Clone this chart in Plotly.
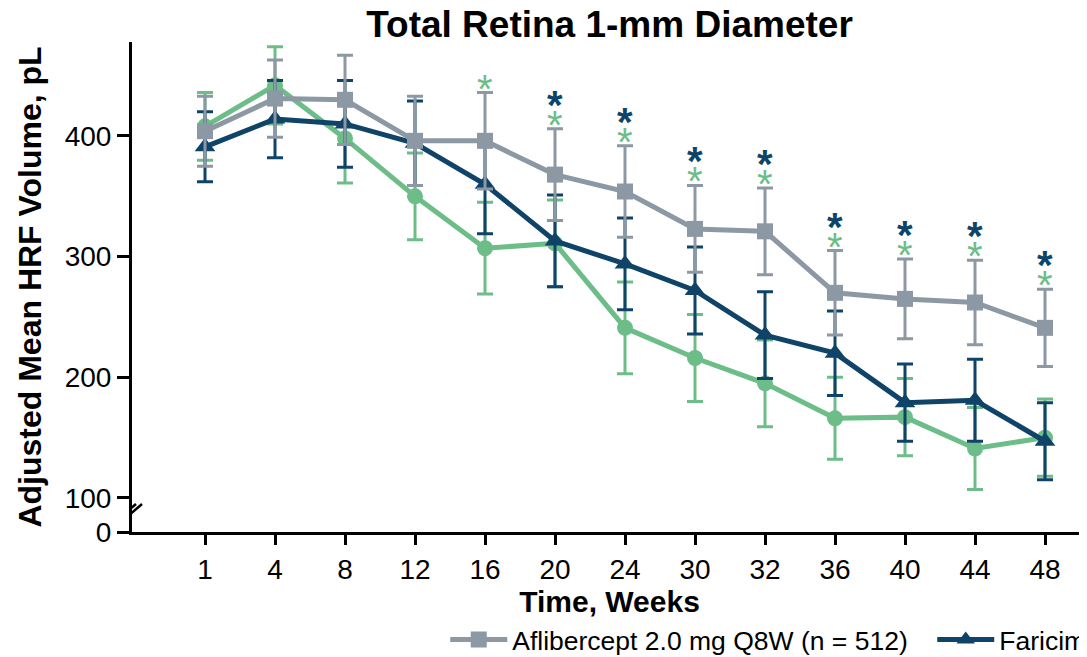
import plotly.graph_objects as go

# ---------------- data ----------------
weeks = ["1", "4", "8", "12", "16", "20", "24", "30", "32", "36", "40", "44", "48"]

afl2_name = "Aflibercept 2.0 mg Q8W (n = 512)"
afl2_mean = [404, 431, 430, 396, 396, 368, 354, 323, 321, 270, 265, 262, 241]
afl2_se = [29, 32, 37, 37, 40, 38, 38, 36, 36, 35, 33, 35, 32]

far_name = "Faricimab 6.0 mg"
far_mean = [391, 414, 410, 394, 360, 313, 294, 272, 235, 220, 179, 181, 147]
far_se = [29, 32, 36, 35, 41, 38, 38, 36, 36, 35, 32, 34, 32]

afl8_name = "Aflibercept 8 mg"
afl8_mean = [408, 442, 398, 350, 307, 311, 241, 216, 195, 166, 167, 141, 150]
afl8_se = [28, 32, 37, 36, 38, 36, 38, 36, 36, 34, 32, 34, 32]

# significance markers (vs aflibercept 2.0 mg)
sig_afl8_weeks = ["16", "20", "24", "30", "32", "36", "40", "44", "48"]
sig_far_weeks = ["20", "24", "30", "32", "36", "40", "44", "48"]

y_tick_vals = [71.8, 100, 200, 300, 400]
y_tick_text = ["0", "100", "200", "300", "400"]
y_break_val = 90

GRAY = "#8c98a4"
NAVY = "#0f4468"
GREEN = "#6dbd88"
FONT = "Liberation Sans, Arial, sans-serif"

fig = go.Figure()


def add_series(name, mean, se, color, symbol, msize, rank, lw=None):
    fig.add_trace(go.Scatter(
        x=weeks, y=mean, name=name, mode="lines+markers",
        line=dict(color=color, width=5),
        marker=dict(color=color, symbol=symbol, size=msize),
        error_y=dict(type="data", array=se, visible=True, color=color,
                     thickness=3, width=8),
        legendrank=rank, legendwidth=lw,
    ))


add_series(afl8_name, afl8_mean, afl8_se, GREEN, "circle", 16, 3, 1)
add_series(far_name, far_mean, far_se, NAVY, "triangle-up", 18, 2, 300)
add_series(afl2_name, afl2_mean, afl2_se, GRAY, "square", 16, 1, 415)

# asterisks above aflibercept 2.0 mg upper error bar
afl2_hi = [m + e for m, e in zip(afl2_mean, afl2_se)]
for w in sig_afl8_weeks:
    i = weeks.index(w)
    fig.add_annotation(x=i, y=afl2_hi[i], text="*", showarrow=False,
                       yanchor="middle", yshift=4,
                       font=dict(family=FONT, size=40, color=GREEN))
for w in sig_far_weeks:
    i = weeks.index(w)
    fig.add_annotation(x=i, y=afl2_hi[i], text="<b>*</b>", showarrow=False,
                       yanchor="middle", yshift=24,
                       font=dict(family=FONT, size=40, color=NAVY))

# axis break marks on the y axis
x_left = -1.043
fig.add_shape(type="line", xref="x", yref="y", xsizemode="pixel", ysizemode="pixel",
              xanchor=x_left, yanchor=y_break_val, x0=0, x1=0, y0=-7, y1=7,
              line=dict(color="white", width=6))
for dx in (-3, 3):
    fig.add_shape(type="line", xref="x", yref="y", xsizemode="pixel", ysizemode="pixel",
                  xanchor=x_left, yanchor=y_break_val,
                  x0=-7 + dx, x1=7 + dx, y0=-6, y1=6,
                  line=dict(color="black", width=2.5))

fig.update_layout(
    width=1079, height=649,
    margin=dict(l=124, r=0, t=34, b=125, autoexpand=False),
    plot_bgcolor="white", paper_bgcolor="white",
    font=dict(family=FONT, color="black", size=28),
    title=dict(text="<b>Total Retina 1-mm Diameter</b>", x=0.5, xref="paper",
               y=1 - 3 / 649, yref="container", yanchor="top",
               font=dict(family=FONT, size=37, color="black")),
    showlegend=True,
    legend=dict(orientation="h", x=0.328, xanchor="left", y=-0.22, yanchor="middle",
                font=dict(family=FONT, size=26.5, color="black"),
                itemwidth=57, bgcolor="rgba(0,0,0,0)", traceorder="normal"),
    xaxis=dict(type="category", categoryorder="array", categoryarray=weeks,
               range=[x_left, 12.6], showline=True, linecolor="black", linewidth=3,
               ticks="outside", ticklen=10, tickwidth=3, tickcolor="black",
               showgrid=False, zeroline=False,
               title=dict(text="<b>Time, Weeks</b>", standoff=6,
                          font=dict(family=FONT, size=30, color="black")),
               tickfont=dict(family=FONT, size=28, color="black")),
    yaxis=dict(range=[71.8, 477.9], tickmode="array", tickvals=y_tick_vals,
               ticktext=y_tick_text, showline=True, linecolor="black", linewidth=3,
               ticks="outside", ticklen=12, tickwidth=3, tickcolor="black",
               showgrid=False, zeroline=False,
               title=dict(text="<b>Adjusted Mean HRF Volume, pL</b>", standoff=14,
                          font=dict(family=FONT, size=32, color="black")),
               tickfont=dict(family=FONT, size=28, color="black")),
)

fig.write_html("out.html")
